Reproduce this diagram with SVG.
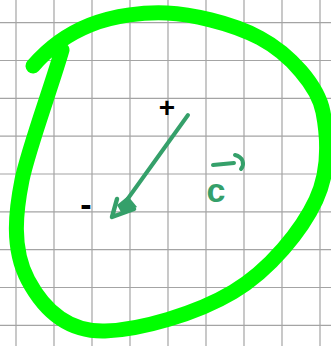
<svg xmlns="http://www.w3.org/2000/svg" width="331" height="346" viewBox="0 0 331 346">
<style>
.grid line{stroke:#a4a4a4;stroke-width:1.2}
.loop{fill:none;stroke:#00ff00;stroke-width:15;stroke-linecap:round;stroke-linejoin:round}
.vec{fill:none;stroke:#35a06a;stroke-width:4;stroke-linecap:round;stroke-linejoin:round}
.sign{font-family:"Liberation Sans",Arial,sans-serif;font-weight:bold;fill:#000;text-anchor:middle}
.lbl{font-family:"Liberation Sans",Arial,sans-serif;font-weight:bold;fill:#35a06a;text-anchor:middle}
</style>
<rect width="331" height="346" fill="#fff"/>
<g class="grid">
<line x1="16" y1="0" x2="16" y2="346"/><line x1="54" y1="0" x2="54" y2="346"/><line x1="92" y1="0" x2="92" y2="346"/><line x1="130" y1="0" x2="130" y2="346"/><line x1="168" y1="0" x2="168" y2="346"/><line x1="206" y1="0" x2="206" y2="346"/><line x1="244" y1="0" x2="244" y2="346"/><line x1="282" y1="0" x2="282" y2="346"/><line x1="320" y1="0" x2="320" y2="346" style="stroke:#c8c8c8;stroke-width:2"/>
<line x1="0" y1="22.7" x2="331" y2="22.7"/><line x1="0" y1="60.5" x2="331" y2="60.5"/><line x1="0" y1="98.4" x2="331" y2="98.4"/><line x1="0" y1="136.2" x2="331" y2="136.2"/><line x1="0" y1="174" x2="331" y2="174"/><line x1="0" y1="211.9" x2="331" y2="211.9"/><line x1="0" y1="249.7" x2="331" y2="249.7"/><line x1="0" y1="287.5" x2="331" y2="287.5"/><line x1="0" y1="325.4" x2="331" y2="325.4"/>
</g>
<g id="loop">
<path class="loop" d="M33,66 C45,52 65,35 90,25 S145,12 167,13 S230,22 260,38 S318,86 323,112 S330,170 316,200 S270,270 233,292 S140,330 105,331 S45,312 28,280 S16,210 22,180 S52,85 62,50"/>
</g>
<g id="connectors">
<path class="vec" d="M188,115 L124,204"/>
<path class="vec" d="M117,199 L112,217 L134,209" style="stroke-width:4.5"/>
<path d="M117,205 L128,196 L137,207 L122,214 Z" fill="#35a06a"/>
</g>
<g id="plus"><text class="sign" x="167" y="117" font-size="28">+</text></g>
<g id="minus"><text class="sign" x="86" y="216" font-size="34">-</text></g>
<g id="label-c">
<text class="lbl" x="216" y="202" font-size="34">c</text>
<path class="vec" d="M213,165 L234,163 M235,155 C243,157 245,164 241,169"/>
</g>
</svg>
